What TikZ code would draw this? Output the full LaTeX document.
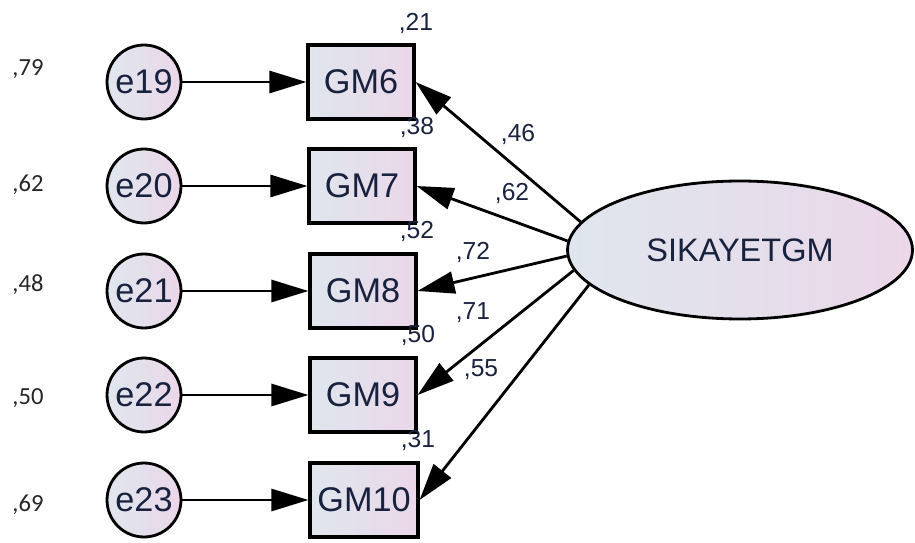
\documentclass[tikz,border=0pt]{standalone}
\usepackage{fontspec}
\setmainfont{Liberation Sans}
\newfontfamily\carlito{Carlito}
\usepackage{xcolor}
\usetikzlibrary{positioning, arrows.meta, shapes.geometric}
\definecolor{Amos_Navy}{HTML}{18223F}
\definecolor{Amos_Blue}{HTML}{DFE6EE}
\definecolor{Amos_Pink}{HTML}{EBD7E9}

\begin{document}
\begin{tikzpicture}[
  x=0.02cm, y=-0.02cm,
  every node/.style={font=\fontsize{19.5}{22}\selectfont, text=Amos_Navy},
  errvar/.style={circle, draw, line width=1.6pt, minimum size=1.48cm,
    inner sep=0pt, left color=Amos_Blue, right color=Amos_Pink},
  obsvar/.style={draw, line width=1.8pt, minimum width=2.12cm,
    minimum height=1.48cm, inner sep=0pt, left color=Amos_Blue,
    right color=Amos_Pink},
  latvar/.style={ellipse, draw, line width=1.6pt, minimum width=6.9cm,
    minimum height=2.76cm, inner sep=0pt, left color=Amos_Blue,
    right color=Amos_Pink, font=\fontsize{18.5}{21}\selectfont},
  est/.style={font=\fontsize{14}{16}\selectfont, text=Amos_Navy, inner sep=0pt},
  errest/.style={font=\carlito\fontsize{14}{16}\selectfont, text=black!85, inner sep=0pt},
  arr/.style={-{Triangle[length=0.74cm, width=0.44cm]}, line width=1.6pt, black}
]
  \useasboundingbox (0,0) rectangle (915,543);

  % Error terms
  \node[errvar] (e19) at (144,82) {e19};
  \node[errvar] (e20) at (144,186) {e20};
  \node[errvar] (e21) at (144,291) {e21};
  \node[errvar] (e22) at (144,395) {e22};
  \node[errvar] (e23) at (144,500) {e23};

  % Observed items
  \node[obsvar] (gm6) at (361,82) {GM6};
  \node[obsvar] (gm7) at (362,186) {GM7};
  \node[obsvar] (gm8) at (363,291) {GM8};
  \node[obsvar] (gm9) at (363,395) {GM9};
  \node[obsvar, minimum width=2.16cm] (gm10) at (364,500) {GM10};

  % Latent factor
  \node[latvar] (sik) at (740,250) {SIKAYETGM};

  % Error paths
  \draw[arr] (e19) -- (gm6);
  \draw[arr] (e20) -- (gm7);
  \draw[arr] (e21) -- (gm8);
  \draw[arr] (e22) -- (gm9);
  \draw[arr] (e23) -- (gm10);

  % Loadings
  \draw[arr] (sik.170) -- (gm6.east);
  \draw[arr] (sik.177) -- (gm7.east);
  \draw[arr] (sik.182) -- (gm8.east);
  \draw[arr] (sik.187) -- (gm9.east);
  \draw[arr] (sik.193) -- (gm10.east);

  % Loading estimates
  \node[est] at (518,134) {,46};
  \node[est] at (512,193) {,62};
  \node[est] at (473,252) {,72};
  \node[est] at (473,313) {,71};
  \node[est] at (481,370) {,55};

  % Squared multiple correlations
  \node[est] at (416,23) {,21};
  \node[est] at (417,127) {,38};
  \node[est] at (417,231) {,52};
  \node[est] at (418,335) {,50};
  \node[est] at (418,440) {,31};

  % Error variances
  \node[errest] at (28,69) {,79};
  \node[errest] at (28,185) {,62};
  \node[errest] at (28,285) {,48};
  \node[errest] at (28,398) {,50};
  \node[errest] at (28,505) {,69};
\end{tikzpicture}
\end{document}
